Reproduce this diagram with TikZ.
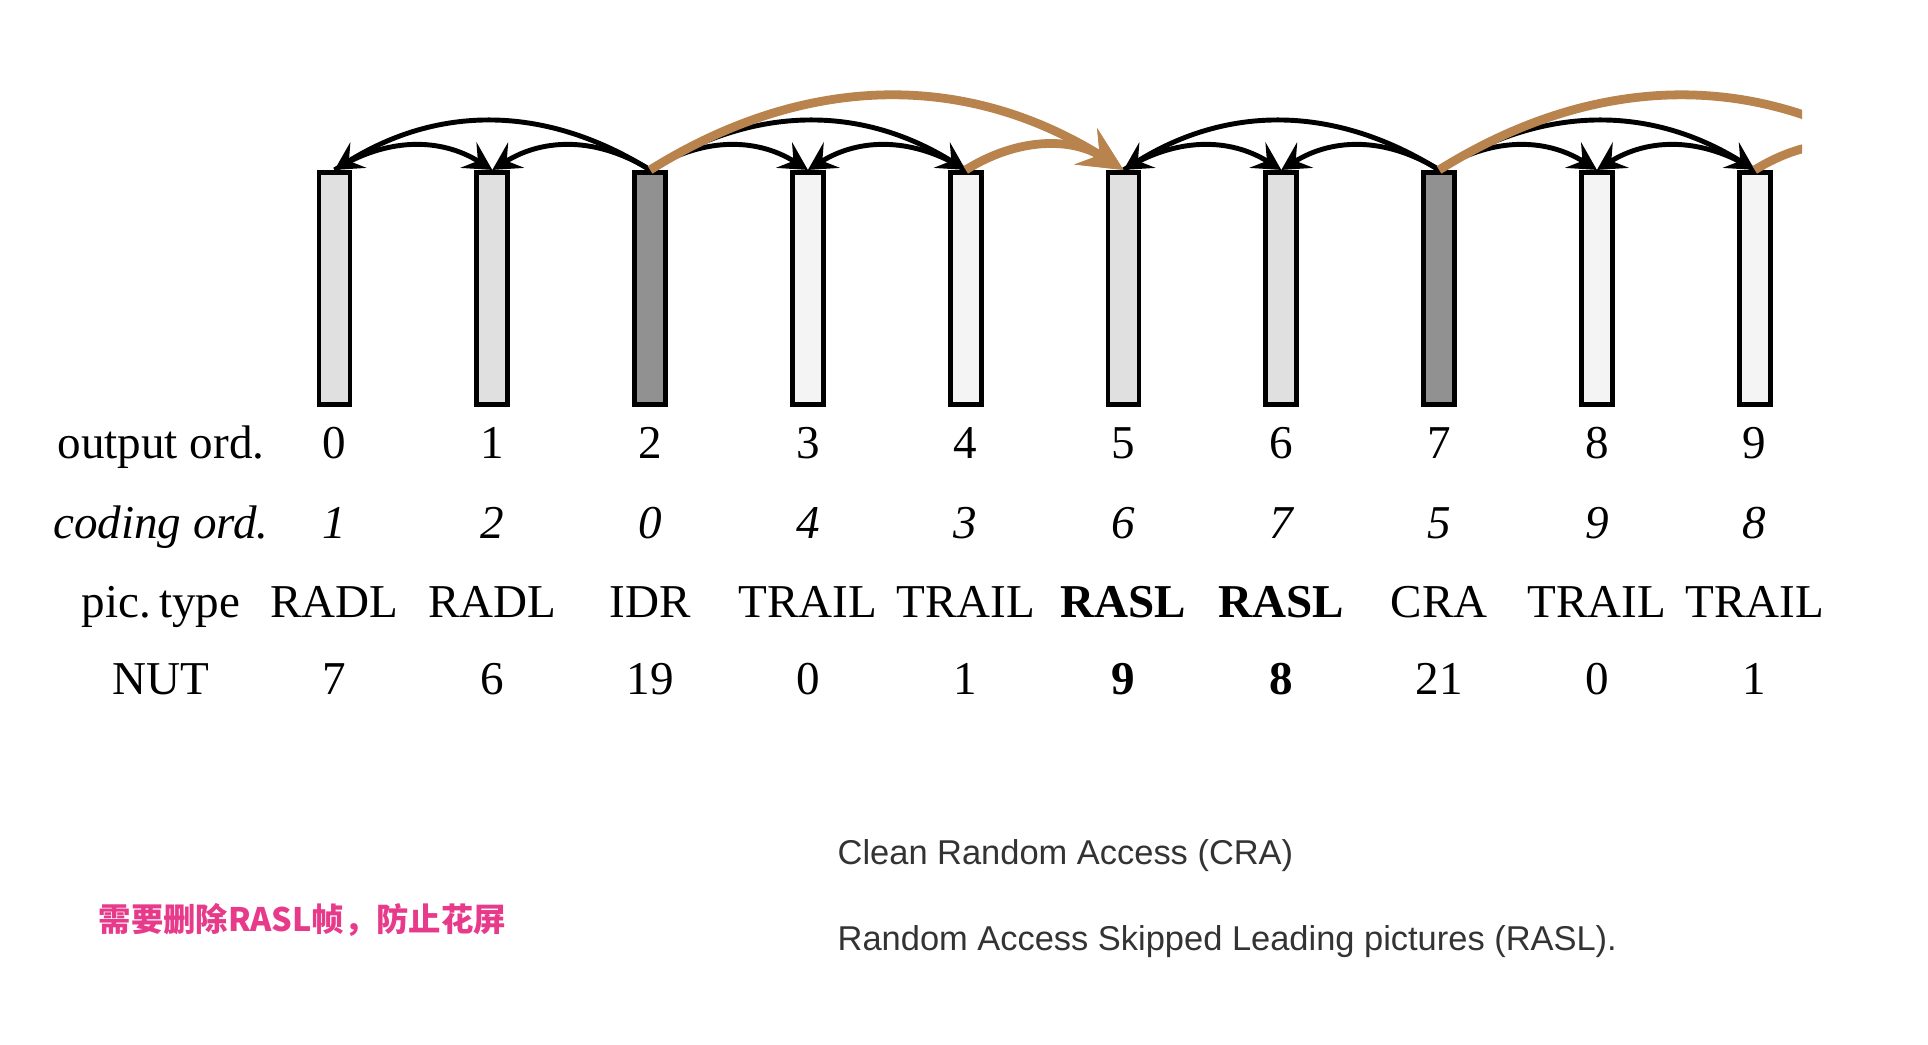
\documentclass[tikz,border=0pt]{standalone}
\usepackage{fontspec}
\usepackage{xcolor}
\usepackage{tikz}
\usetikzlibrary{arrows.meta}
\setmainfont{Liberation Serif}
\newfontfamily\lsans{Liberation Sans}
\newfontfamily\cjk{Noto Sans CJK SC}
\definecolor{lg}{RGB}{224,224,224}
\definecolor{dg}{RGB}{145,145,145}
\definecolor{wg}{RGB}{244,244,244}
\definecolor{br}{RGB}{184,131,76}
\definecolor{pk}{RGB}{232,58,138}
\definecolor{tx}{RGB}{51,51,51}

\tikzset{
  pic/.style={draw=black,line width=1.4pt,minimum width=0.31cm,minimum height=2.32cm,inner sep=0pt},
  ref/.style={-{Stealth[length=2.8mm,width=3.0mm,inset=1.1mm]},line width=1.4pt},
  skip/.style={-{Stealth[length=4.4mm,width=4.2mm,inset=1.6mm]},draw=br,line width=2.5pt},
  row/.style={anchor=base,font=\fontsize{13.4}{16}\selectfont},
}

\begin{document}
\begin{tikzpicture}[x=1cm,y=1cm]
  \useasboundingbox (0,0) rectangle (19.28,10.44);

  % pictures
  \node[pic,fill=lg] (b0) at (3.345,7.556) {};
  \node[pic,fill=lg] (b1) at (4.923,7.556) {};
  \node[pic,fill=dg] (b2) at (6.501,7.556) {};
  \node[pic,fill=wg] (b3) at (8.079,7.556) {};
  \node[pic,fill=wg] (b4) at (9.657,7.556) {};
  \node[pic,fill=lg] (b5) at (11.235,7.556) {};
  \node[pic,fill=lg] (b6) at (12.813,7.556) {};
  \node[pic,fill=dg] (b7) at (14.391,7.556) {};
  \node[pic,fill=wg] (b8) at (15.969,7.556) {};
  \node[pic,fill=wg] (b9) at (17.547,7.556) {};
  \coordinate (b10) at (19.125,8.74);

  % references
  \draw[ref] (b2.north) to[bend right=32] (b0.north);
  \draw[ref] (b0.north) to[bend left=32] (b1.north);
  \draw[ref] (b2.north) to[bend right=32] (b1.north);
  \draw[ref] (b2.north) to[bend left=32] (b3.north);
  \draw[ref] (b4.north) to[bend right=32] (b3.north);
  \draw[ref] (b2.north) to[bend left=32] (b4.north);
  \draw[ref] (b7.north) to[bend right=32] (b5.north);
  \draw[ref] (b5.north) to[bend left=32] (b6.north);
  \draw[ref] (b7.north) to[bend right=32] (b6.north);
  \draw[ref] (b7.north) to[bend left=32] (b8.north);
  \draw[ref] (b9.north) to[bend right=32] (b8.north);
  \draw[ref] (b7.north) to[bend left=32] (b9.north);

  % skipped leading refs
  \draw[skip] (b2.north) to[bend left=32] (b5.north);
  \draw[skip] (b4.north) to[bend left=32] (b5.north);
  \begin{scope}
    \clip (0,0) rectangle (18.02,10.44);
    \draw[skip] (b7.north) to[bend left=32] (b10);
    \draw[skip] (b9.north) to[bend left=32] (b10);
  \end{scope}

  % row titles
  \node[row] (tout) at (1.61,5.853) {output ord.};
  \node[row] (tcod) at (1.61,5.054) {\itshape coding ord.};
  \node[row] (ttyp) at (1.61,4.27) {pic.\,type};
  \node[row] (tnut) at (1.61,3.493) {NUT};

  % output order
  \node[row] (o0) at (3.345,5.853) {0};
  \node[row] (o1) at (4.923,5.853) {1};
  \node[row] (o2) at (6.501,5.853) {2};
  \node[row] (o3) at (8.079,5.853) {3};
  \node[row] (o4) at (9.657,5.853) {4};
  \node[row] (o5) at (11.235,5.853) {5};
  \node[row] (o6) at (12.813,5.853) {6};
  \node[row] (o7) at (14.391,5.853) {7};
  \node[row] (o8) at (15.969,5.853) {8};
  \node[row] (o9) at (17.547,5.853) {9};

  % coding order
  \node[row] (c0) at (3.345,5.054) {\itshape 1};
  \node[row] (c1) at (4.923,5.054) {\itshape 2};
  \node[row] (c2) at (6.501,5.054) {\itshape 0};
  \node[row] (c3) at (8.079,5.054) {\itshape 4};
  \node[row] (c4) at (9.657,5.054) {\itshape 3};
  \node[row] (c5) at (11.235,5.054) {\itshape 6};
  \node[row] (c6) at (12.813,5.054) {\itshape 7};
  \node[row] (c7) at (14.391,5.054) {\itshape 5};
  \node[row] (c8) at (15.969,5.054) {\itshape 9};
  \node[row] (c9) at (17.547,5.054) {\itshape 8};

  % picture type
  \node[row] (p0) at (3.345,4.27) {RADL};
  \node[row] (p1) at (4.923,4.27) {RADL};
  \node[row] (p2) at (6.501,4.27) {IDR};
  \node[row] (p3) at (8.079,4.27) {TRAIL};
  \node[row] (p4) at (9.657,4.27) {TRAIL};
  \node[row] (p5) at (11.235,4.27) {\bfseries RASL};
  \node[row] (p6) at (12.813,4.27) {\bfseries RASL};
  \node[row] (p7) at (14.391,4.27) {CRA};
  \node[row] (p8) at (15.969,4.27) {TRAIL};
  \node[row] (p9) at (17.547,4.27) {TRAIL};

  % nal unit type
  \node[row] (n0) at (3.345,3.493) {7};
  \node[row] (n1) at (4.923,3.493) {6};
  \node[row] (n2) at (6.501,3.493) {19};
  \node[row] (n3) at (8.079,3.493) {0};
  \node[row] (n4) at (9.657,3.493) {1};
  \node[row] (n5) at (11.235,3.493) {\bfseries 9};
  \node[row] (n6) at (12.813,3.493) {\bfseries 8};
  \node[row] (n7) at (14.391,3.493) {21};
  \node[row] (n8) at (15.969,3.493) {0};
  \node[row] (n9) at (17.547,3.493) {1};

  % notes
  \node[anchor=base west,inner sep=0pt,text=pk,font=\cjk\bfseries\fontsize{9.2}{11}\selectfont] (note) at (0.98,1.13) {需要删除RASL帧，防止花屏};
  \node[anchor=base west,inner sep=0pt,text=tx,font=\lsans\fontsize{9.8}{12}\selectfont] (cra) at (8.37,1.80) {Clean Random Access (CRA)};
  \node[anchor=base west,inner sep=0pt,text=tx,font=\lsans\fontsize{9.8}{12}\selectfont] (rasl) at (8.37,0.94) {Random Access Skipped Leading pictures (RASL).};
\end{tikzpicture}
\end{document}
